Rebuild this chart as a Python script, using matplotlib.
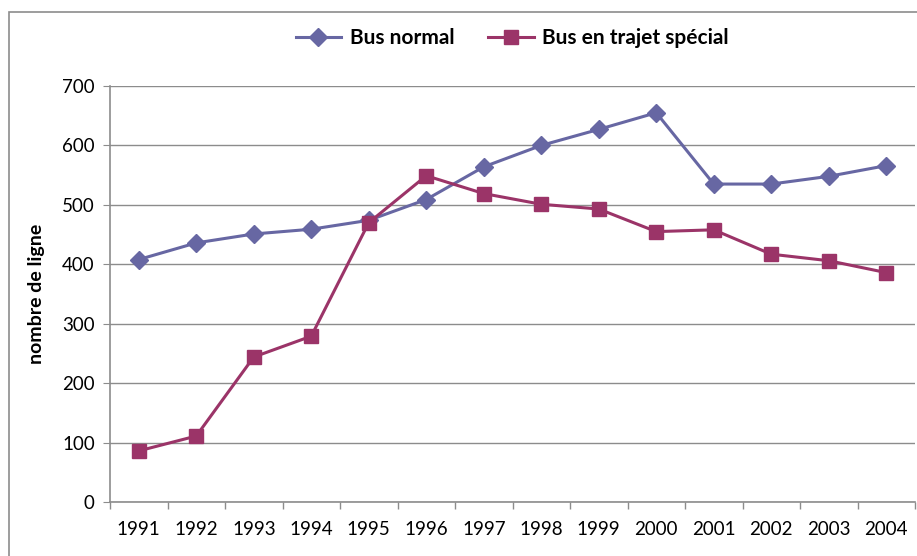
import matplotlib.pyplot as plt
from matplotlib.patches import Rectangle

years = ['1991', '1992', '1993', '1994', '1995', '1996', '1997',
         '1998', '1999', '2000', '2001', '2002', '2003', '2004']
bus_normal = [408, 436, 451, 459, 474, 509, 564, 600, 627, 655, 535, 535, 548, 566]
bus_special = [86, 111, 244, 279, 470, 549, 519, 501, 493, 455, 458, 417, 406, 386]

plt.rcParams['font.family'] = ['Lato', 'DejaVu Sans']

fig = plt.figure(figsize=(9.17, 5.56), dpi=100)
W, H = 917, 556

# outer chart frame (cropped on the right and bottom)
fig.patches.append(Rectangle((9 / W, -0.1), 1.1, (H - 12) / H + 0.1,
                             transform=fig.transFigure, fill=False,
                             edgecolor='#8c8c8c', linewidth=1.2))

ax = fig.add_axes([110 / W, (H - 502) / H, 805 / W, 416 / H])
x = list(range(len(years)))
ax.plot(x, bus_normal, color='#6767a3', marker='D', markersize=9,
        linewidth=2.2, label='Bus normal')
ax.plot(x, bus_special, color='#9b3468', marker='s', markersize=10,
        linewidth=2.2, label='Bus en trajet spécial')

ax.set_xlim(-0.5, len(years) - 0.5)
ax.set_ylim(0, 700)
ax.set_yticks(range(0, 701, 100))
ax.set_xticks(x)
ax.set_xticklabels(years)
ax.set_xticks([i + 0.5 for i in range(-1, len(years))], minor=True)
ax.tick_params(axis='x', which='major', length=0, pad=14, labelsize=13.5)
ax.tick_params(axis='x', which='minor', length=5, color='#8c8c8c', width=1)
ax.tick_params(axis='y', length=5, color='#8c8c8c', labelsize=13.5, pad=6)
ax.grid(axis='y', color='#8c8c8c', linewidth=1)
ax.set_axisbelow(True)
for side in ['top', 'right']:
    ax.spines[side].set_visible(False)
for side in ['left', 'bottom']:
    ax.spines[side].set_color('#8c8c8c')
    ax.spines[side].set_linewidth(1.2)

ax.set_ylabel('nombre de ligne', fontsize=14, fontweight='bold', labelpad=12)

fig.legend(loc='center', bbox_to_anchor=(512 / W, (H - 38) / H), ncol=2,
           frameon=False, prop={'weight': 'bold', 'size': 15},
           handlelength=2.2, columnspacing=1.6, handletextpad=0.4)

fig.savefig('out.png', dpi=100)
